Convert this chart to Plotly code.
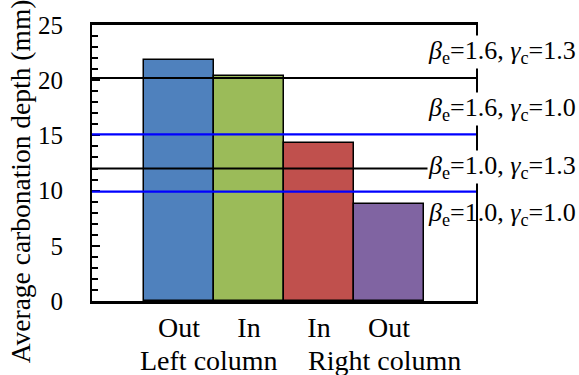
import plotly.graph_objects as go

# Data
bar_labels = ["Out", "In", "In", "Out"]
group_labels = ["Left column", "Right column"]
depth_values = [21.8, 20.4, 14.3, 8.75]
bar_colors = ["#4F81BD", "#9BBB59", "#C0504D", "#8064A2"]
ref_values = [20.2, 15.1, 12.0, 9.9]
ref_colors = ["#000000", "#0000FF", "#000000", "#0000FF"]
ref_labels = [
    "<i>β</i><sub>e</sub>=1.6, <i>γ</i><sub>c</sub>=1.3",
    "<i>β</i><sub>e</sub>=1.6, <i>γ</i><sub>c</sub>=1.0",
    "<i>β</i><sub>e</sub>=1.0, <i>γ</i><sub>c</sub>=1.3",
    "<i>β</i><sub>e</sub>=1.0, <i>γ</i><sub>c</sub>=1.0",
]
y_ticks = [0, 5, 10, 15, 20, 25]

FONT = "Liberation Serif"
x_pos = list(range(len(depth_values)))

fig = go.Figure()
fig.add_trace(go.Bar(
    x=x_pos, y=depth_values, width=1.0,
    marker=dict(color=bar_colors, line=dict(color="black", width=1.5)),
    showlegend=False,
))

for v, c in zip(ref_values, ref_colors):
    fig.add_shape(type="line", xref="x domain", yref="y", x0=0, x1=1, y0=v, y1=v,
                  line=dict(color=c, width=2.2), layer="above")

label_y = [22.55, 17.4, 12.15, 7.9]
label_bg = ["white", "white", "white", "rgba(0,0,0,0)"]
for t, yy, bg in zip(ref_labels, label_y, label_bg):
    fig.add_annotation(text=t, xref="paper", yref="y", x=1.263, y=yy,
                       xanchor="right", yanchor="middle", showarrow=False,
                       bgcolor=bg, borderpad=0,
                       font=dict(family=FONT, size=26, color="black"))

group_x = [0.43, 2.94]
for g, gx in zip(group_labels, group_x):
    fig.add_annotation(text=g, xref="x", yref="paper", x=gx, y=-0.215,
                       xanchor="center", yanchor="middle", showarrow=False,
                       font=dict(family=FONT, size=28, color="black"))

fig.add_annotation(text="Average carbonation depth (mm)", xref="paper", yref="paper",
                   x=-0.184, y=0.435, textangle=-90, xanchor="center", yanchor="middle",
                   showarrow=False, font=dict(family=FONT, size=27.5, color="black"))

fig.update_layout(
    width=579, height=375,
    margin=dict(l=92, r=103, t=23, b=74),
    paper_bgcolor="white", plot_bgcolor="white",
    bargap=0,
    font=dict(family=FONT, size=24, color="black"),
    xaxis=dict(range=[-1.243, 4.243], tickvals=x_pos, ticktext=bar_labels,
               showline=True, linecolor="black", linewidth=2.5, mirror=True,
               ticks="", showgrid=False, zeroline=False,
               tickfont=dict(family=FONT, size=28)),
    yaxis=dict(range=[0, 25], tickvals=y_ticks, showline=True, linecolor="black",
               linewidth=2, mirror=True, ticks="inside", ticklen=8, tickwidth=2,
               tickcolor="black", showgrid=False, zeroline=False,
               ticklabelstandoff=22,
               minor=dict(dtick=1, ticks="inside", ticklen=6, tickwidth=1.5, tickcolor="black"),
               tickfont=dict(family=FONT, size=25)),
)

fig.write_html("out.html", config={"displayModeBar": False},
               post_script="document.body.style.margin='0px';document.body.style.overflow='hidden';")
